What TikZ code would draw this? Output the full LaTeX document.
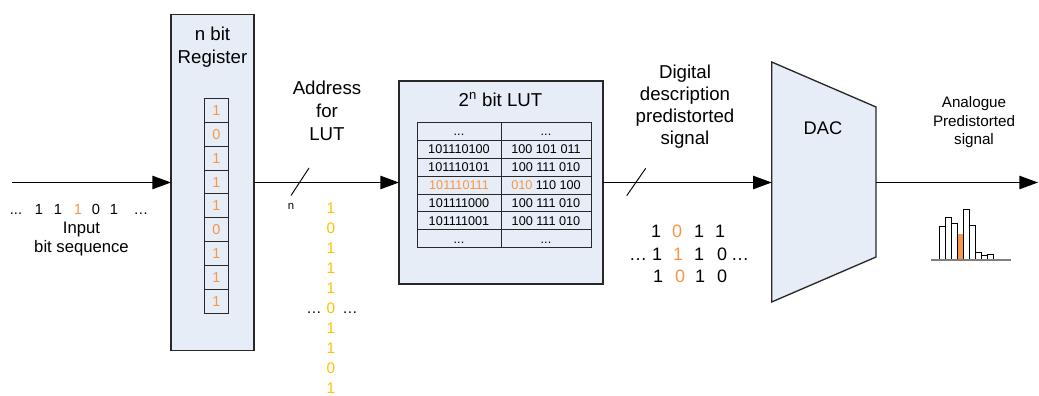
\documentclass[tikz,border=0pt]{standalone}
\usepackage{fontspec}
\setmainfont{Liberation Sans}
\usetikzlibrary{arrows.meta}
\definecolor{boxfill}{RGB}{231,237,247}
\definecolor{bitorange}{RGB}{247,150,70}
\definecolor{bityellow}{RGB}{255,192,0}
\definecolor{edge}{RGB}{40,40,40}
\definecolor{axisgray}{RGB}{128,128,128}
% three full stops, kept out of \foreach's range syntax
\newcommand\cellgap{...}

\begin{document}
\begin{tikzpicture}[x=0.75pt,y=-0.75pt,
  every node/.style={inner sep=0pt, outer sep=0pt},
  sig/.style={line width=1.1pt, -{Triangle[length=14pt,width=10pt]}},
  slashmark/.style={line width=0.7pt},
  block/.style={draw=edge, line width=1pt, fill=boxfill},
  regcell/.style={draw=edge, line width=0.7pt, fill=boxfill, text=bitorange,
    minimum width={24*0.75pt}, minimum height={23.9*0.75pt},
    font=\fontsize{10.8}{12}\selectfont, text height=7.7pt, text depth=0pt},
  lutcell/.style={draw=edge, line width=0.6pt, fill=boxfill,
    minimum height={17.91*0.75pt},
    font=\fontsize{9.5}{11}\selectfont, text height=6.8pt, text depth=0pt},
  heading/.style={font=\fontsize{14}{17}\selectfont, align=center},
  inbit/.style={anchor=base, font=\fontsize{11}{13}\selectfont},
  addrbit/.style={anchor=base, font=\fontsize{11.5}{13}\selectfont, text=bityellow},
  outbit/.style={anchor=base, font=\fontsize{13.5}{16}\selectfont},
  bar/.style={draw=black, line width=0.7pt, fill=white}
]
\useasboundingbox (0,0) rectangle (1039,396);

% ---------- n bit register ----------
\node[block, minimum width={83*0.75pt}, minimum height={336*0.75pt}] (reg) at (212.5,182.5) {};
\node[heading, font=\fontsize{14}{17}\selectfont] (regtitle) at (212.5,47) {n bit\\Register};
\foreach \b [count=\i] in {1,0,1,1,1,0,1,1,1}
  \node[regcell] (r\i) at (216.3,{110.25+(\i-1)*23.9}) {\b};

% ---------- input bit stream ----------
\node[inbit] (in0) at (16,214.3) {...};
\node[inbit] (in1) at (39,214.3) {1};
\node[inbit] (in2) at (58,214.3) {1};
\node[inbit, text=bitorange] (in3) at (78,214.3) {1};
\node[inbit] (in4) at (96,214.3) {0};
\node[inbit] (in5) at (114,214.3) {1};
\node[inbit] (in6) at (141,214.3) {…};
\node[align=center, font=\fontsize{12.5}{14.3}\selectfont] (inlabel) at (81.5,239) {Input\\bit sequence};

% ---------- address ----------
\node[heading, font=\fontsize{14}{17.1}\selectfont] (addrlabel) at (327,111) {Address\\for\\LUT};
\foreach \b [count=\i] in {1,0,1,1,1,0,1,1,0,1}
  \node[addrbit] (a\i) at (331,{213.3+(\i-1)*20}) {\b};
\node[inbit, font=\fontsize{11.5}{13}\selectfont] (adl) at (314,313.3) {…};
\node[inbit, font=\fontsize{11.5}{13}\selectfont] (adr) at (350,313.3) {…};

% ---------- look-up table ----------
\node[block, minimum width={204*0.75pt}, minimum height={203*0.75pt}] (lut) at (501,182.5) {};
\node[anchor=base, font=\fontsize{14}{17}\selectfont] (luttitle) at (500.5,106) {2\textsuperscript{n} bit LUT};
\foreach \l/\r [count=\i] in {
    \cellgap/\cellgap,
    101110100/100 101 011,
    101110101/100 111 010,
    {\color{bitorange}101110111}/{{\color{bitorange}010} 110 100},
    101111000/100 111 010,
    101111001/100 111 010,
    \cellgap/\cellgap}{
  \node[lutcell, minimum width={84*0.75pt}] (tl\i) at (459,{131.25+(\i-1)*17.91}) {\l};
  \node[lutcell, minimum width={90*0.75pt}] (tr\i) at (546,{131.25+(\i-1)*17.91}) {\r};
}

% ---------- digital description ----------
\node[heading, font=\fontsize{14}{16.5}\selectfont] (diglabel) at (685,106.5) {Digital\\description\\predistorted\\signal};
\node[outbit] (d11) at (656,237.7) {1};
\node[outbit, text=bitorange] (d12) at (677,237.7) {0};
\node[outbit] (d13) at (699,237.7) {1};
\node[outbit] (d14) at (720,237.7) {1};
\node[outbit] (d20) at (638,260) {…};
\node[outbit] (d21) at (657,260) {1};
\node[outbit, text=bitorange] (d22) at (678,260) {1};
\node[outbit] (d23) at (699,260) {1};
\node[outbit] (d24) at (722,260) {0};
\node[outbit] (d25) at (740,260) {…};
\node[outbit] (d31) at (658,282.3) {1};
\node[outbit, text=bitorange] (d32) at (680,282.3) {0};
\node[outbit] (d33) at (700,282.3) {1};
\node[outbit] (d34) at (722,282.3) {0};

% ---------- DAC ----------
\draw[block] (771.7,62) -- (876,107) -- (876,257) -- (771.7,302) -- cycle;
\coordinate (dacin) at (771.7,182.5);
\coordinate (dacout) at (876,182.5);
\node[font=\fontsize{13.7}{16}\selectfont] (daclabel) at (823,128) {DAC};

% ---------- analogue output ----------
\node[align=center, font=\fontsize{11.4}{14.1}\selectfont] (analabel) at (974,122.2) {Analogue\\Predistorted\\signal};
\fill[bitorange] (957.3,234) rectangle (963.3,260);
\foreach \xa/\xb/\top in {939.3/945/226, 945/951/217.3, 951/957.3/223.3,
    963.3/969.3/209, 969.3/975.3/225, 975.3/981.7/252.3,
    981.7/987.7/255.7, 987.7/993.7/254}
  \draw[bar] (\xa,260) -- (\xa,\top) -- (\xb,\top) -- (\xb,260);
\draw[axisgray, line width=1pt] (931,260) -- (1011,260);

% ---------- signal path ----------
\coordinate (src) at (12,182.5);
\coordinate (sink) at (1038,182.5);
\draw[sig] (src) -- (reg.west);
\draw[sig] (reg.east) -- (lut.west);
\draw[sig] (lut.east) -- (dacin);
\draw[sig] (dacout) -- (sink);

% bus-width marks
\draw[slashmark] (291,195.5) -- (309,168);
\node[font=\fontsize{8.5}{10}\selectfont] (buswidth) at (291,206) {n};
\draw[slashmark] (626.7,195.7) -- (645.7,168.3);
\end{tikzpicture}
\end{document}
